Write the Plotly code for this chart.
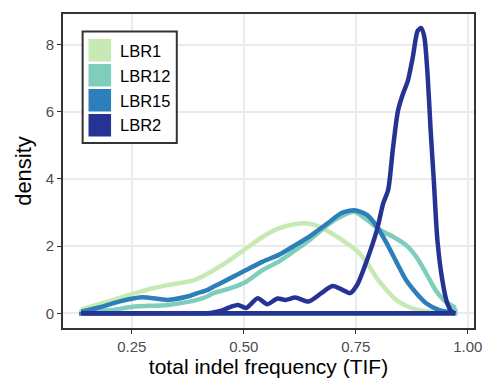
import plotly.graph_objects as go

# Groups and their colours (YlGnBu-like ramp)
groups = ["LBR1", "LBR12", "LBR15", "LBR2"]
colors = ["#c7e9b4", "#7fcdbb", "#2c7fb8", "#253494"]

# Kernel density estimates of TIF for each group
lbr1_x = [0.137, 0.184, 0.220, 0.257, 0.295, 0.330, 0.389, 0.418, 0.469, 0.505,
          0.542, 0.578, 0.615, 0.636, 0.656, 0.680, 0.717, 0.753, 0.775, 0.797,
          0.819, 0.840, 0.870, 0.899, 0.935, 0.972]
lbr1_y = [0.12, 0.30, 0.45, 0.60, 0.74, 0.84, 0.99, 1.17, 1.59, 1.93,
          2.28, 2.53, 2.66, 2.68, 2.64, 2.50, 2.20, 1.85, 1.50, 1.04,
          0.69, 0.40, 0.18, 0.08, 0.02, 0.00]

lbr12_x = [0.137, 0.170, 0.206, 0.257, 0.330, 0.396, 0.418, 0.432, 0.469, 0.505,
           0.542, 0.578, 0.615, 0.651, 0.687, 0.717, 0.746, 0.775, 0.804, 0.833,
           0.862, 0.885, 0.907, 0.928, 0.950, 0.968, 0.972]
lbr12_y = [0.02, 0.05, 0.10, 0.20, 0.25, 0.40, 0.50, 0.60, 0.74, 0.94,
           1.29, 1.54, 1.88, 2.23, 2.63, 2.88, 3.02, 2.78, 2.48, 2.28,
           2.03, 1.68, 1.19, 0.69, 0.35, 0.20, 0.15]

lbr15_x = [0.137, 0.184, 0.221, 0.272, 0.330, 0.374, 0.396, 0.418, 0.432, 0.469,
           0.505, 0.542, 0.578, 0.615, 0.651, 0.687, 0.717, 0.746, 0.775, 0.797,
           0.819, 0.840, 0.862, 0.885, 0.907, 0.935, 0.964, 0.972]
lbr15_y = [0.05, 0.20, 0.35, 0.48, 0.40, 0.50, 0.60, 0.69, 0.79, 1.04,
           1.29, 1.54, 1.74, 2.03, 2.33, 2.68, 2.98, 3.07, 2.93, 2.58,
           2.08, 1.54, 0.99, 0.60, 0.30, 0.10, 0.02, 0.00]

lbr2_x = [0.137, 0.400, 0.425, 0.450, 0.472, 0.487, 0.505, 0.531, 0.552, 0.575,
          0.593, 0.615, 0.644, 0.673, 0.698, 0.720, 0.737, 0.753, 0.775, 0.797,
          0.811, 0.822, 0.833, 0.844, 0.855, 0.866, 0.877, 0.888, 0.896, 0.903,
          0.910, 0.917, 0.924, 0.932, 0.943, 0.954, 0.964, 0.972]
lbr2_y = [0.00, 0.00, 0.01, 0.08, 0.20, 0.25, 0.16, 0.45, 0.27, 0.44,
          0.40, 0.47, 0.35, 0.60, 0.81, 0.70, 0.60, 0.85, 1.59, 2.48,
          3.27, 3.67, 4.94, 6.03, 6.53, 6.92, 7.62, 8.41, 8.49, 8.21,
          7.12, 5.43, 3.95, 2.18, 0.99, 0.30, 0.05, 0.00]

series_x = [lbr1_x, lbr12_x, lbr15_x, lbr2_x]
series_y = [lbr1_y, lbr12_y, lbr15_y, lbr2_y]

x_ticks = [0.25, 0.50, 0.75, 1.00]
x_labels = ["0.25", "0.50", "0.75", "1.00"]
y_ticks = [0, 2, 4, 6, 8]

W, H = 492, 383
M = dict(l=63, r=10, t=14, b=55)
FONT = "Liberation Sans, Arial, Helvetica, sans-serif"
LW = 4.5


def pxx(px):
    return (px - M["l"]) / (W - M["l"] - M["r"])


def pxy(py):
    return (H - M["b"] - py) / (H - M["t"] - M["b"])


fig = go.Figure()
for name, color, xs, ys in zip(groups, colors, series_x, series_y):
    # closing segments of the density polygon down to the baseline
    fig.add_trace(go.Scatter(
        x=[xs[-1], xs[-1], xs[0], xs[0]], y=[ys[-1], 0, 0, ys[0]],
        mode="lines", line=dict(color=color, width=LW),
        showlegend=False, hoverinfo="skip"))
    # density curve
    fig.add_trace(go.Scatter(
        x=xs, y=ys, mode="lines", name=name,
        line=dict(color=color, width=LW, shape="spline", smoothing=0.7),
        showlegend=False))

# legend box with filled keys
shapes = [dict(type="rect", xref="paper", yref="paper",
               x0=pxx(83), x1=pxx(179), y0=pxy(143), y1=pxy(31.5),
               fillcolor="white", line=dict(color="#333333", width=2), layer="above")]
annotations = []
for i, (name, color) in enumerate(zip(groups, colors)):
    top = 39 + 25 * i
    shapes.append(dict(type="rect", xref="paper", yref="paper",
                       x0=pxx(89), x1=pxx(112), y0=pxy(top + 22.5), y1=pxy(top),
                       fillcolor=color, line=dict(width=0), layer="above"))
    annotations.append(dict(text=name, xref="paper", yref="paper",
                            x=pxx(119.5), y=pxy(top + 11.5), xanchor="left", yanchor="middle",
                            showarrow=False, font=dict(family=FONT, size=16.5, color="black")))

axis_common = dict(
    showgrid=True, gridcolor="#EBEBEB", gridwidth=1.6,
    zeroline=False, showline=True, mirror=True,
    linecolor="#333333", linewidth=2,
    ticks="outside", ticklen=4, tickwidth=1.3, tickcolor="#333333",
    tickfont=dict(family=FONT, size=15, color="#4D4D4D"),
)

fig.update_layout(
    width=W, height=H, margin=M,
    paper_bgcolor="white", plot_bgcolor="white",
    font=dict(family=FONT),
    showlegend=False,
    shapes=shapes, annotations=annotations,
    xaxis=dict(range=[0.0963, 1.0137], tickvals=x_ticks, ticktext=x_labels,
               title=dict(text="total indel frequency (TIF)",
                          font=dict(family=FONT, size=21, color="black"), standoff=3),
               **axis_common),
    yaxis=dict(range=[-0.437, 8.91], tickvals=y_ticks,
               title=dict(text="density",
                          font=dict(family=FONT, size=22, color="black"), standoff=8),
               **axis_common),
)

fig.write_html("out.html")
